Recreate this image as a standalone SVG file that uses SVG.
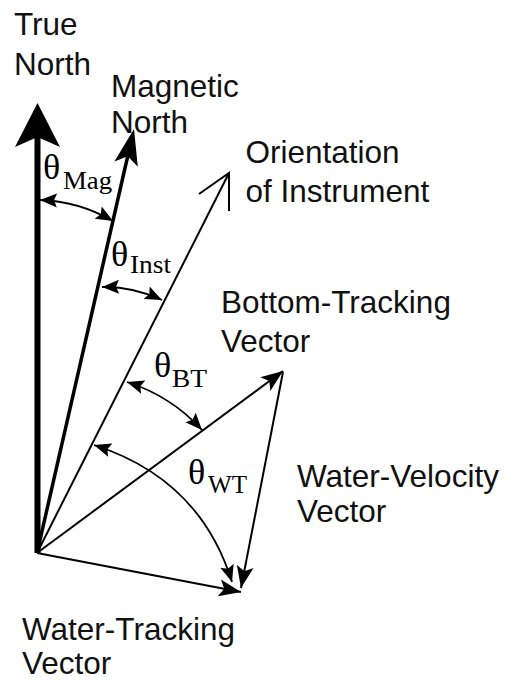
<svg xmlns="http://www.w3.org/2000/svg" width="507" height="681" viewBox="0 0 507 681">
  <style>
    .lbl { font-family: "Liberation Sans", Arial, sans-serif; font-size: 31.5px; fill: #111; }
    .th { font-family: "Liberation Serif", "Times New Roman", serif; font-size: 36px; fill: #000; }
    .sub { font-family: "Liberation Serif", "Times New Roman", serif; font-size: 25px; fill: #000; }
    .vec { stroke: #000; stroke-width: 2; fill: none; }
    .arc { stroke: #000; stroke-width: 1.8; fill: none; marker-start: url(#ah); marker-end: url(#ah); }
    .head { fill: #000; stroke: none; }
  </style>
  <defs>
    <marker id="vh" markerUnits="userSpaceOnUse" viewBox="0 -10 24 20" markerWidth="24" markerHeight="20" refX="22" refY="0" orient="auto">
      <path d="M22,0 L0,-8.5 L5,0 L0,8.5 Z" fill="#000"/>
    </marker>
    <marker id="ah" markerUnits="userSpaceOnUse" viewBox="0 -9 19 18" markerWidth="19" markerHeight="18" refX="17" refY="0" orient="auto-start-reverse">
      <path d="M17,0 L0,-7 L3,0 L0,7 Z" fill="#000"/>
    </marker>
  </defs>

  <rect width="507" height="681" fill="#fff"/>

  <g id="connectors">
    <g id="true-north-vector">
      <line x1="37.5" y1="553" x2="37.5" y2="136" stroke="#000" stroke-width="6"/>
      <path class="head" d="M37.5,103 L15,147 L37.5,137 L60,147 Z"/>
    </g>
    <g id="magnetic-north-vector">
      <line x1="37" y1="553" x2="128" y2="155" stroke="#000" stroke-width="3.5"/>
      <path class="head" d="M134,129 L114.4,161.5 L127.8,156.3 L137.8,166.7 Z"/>
    </g>
    <g id="orientation-vector">
      <line class="vec" x1="37" y1="553" x2="229" y2="173"/>
      <polyline class="vec" points="199,194 229,173 229,211"/>
    </g>
    <line id="bottom-tracking-vector" class="vec" x1="37" y1="553" x2="283" y2="371" marker-end="url(#vh)"/>
    <line id="water-velocity-vector" class="vec" x1="283" y1="372" x2="241" y2="588" marker-end="url(#vh)"/>
    <line id="water-tracking-vector" class="vec" x1="37" y1="553" x2="241" y2="592" marker-end="url(#vh)"/>

    <path id="arc-mag" class="arc" d="M40,200 Q78,201 113,221"/>
    <path id="arc-inst" class="arc" d="M102,287 Q133.5,286.5 162,300"/>
    <path id="arc-bt" class="arc" d="M127,382 Q171,396 202,430"/>
    <path id="arc-wt" class="arc" d="M94,445 Q200,479 232,582"/>
  </g>

  <g id="label-true-north">
    <text class="lbl" x="14" y="35">True</text>
    <text class="lbl" x="14" y="75">North</text>
  </g>
  <g id="label-magnetic-north">
    <text class="lbl" x="111" y="97">Magnetic</text>
    <text class="lbl" x="111" y="133">North</text>
  </g>
  <g id="label-orientation">
    <text class="lbl" x="245.5" y="163">Orientation</text>
    <text class="lbl" x="245.5" y="202">of Instrument</text>
  </g>
  <g id="label-bottom-tracking">
    <text class="lbl" x="221" y="313">Bottom-Tracking</text>
    <text class="lbl" x="221" y="352">Vector</text>
  </g>
  <g id="label-water-velocity">
    <text class="lbl" x="297" y="487">Water-Velocity</text>
    <text class="lbl" x="297" y="522">Vector</text>
  </g>
  <g id="label-water-tracking">
    <text class="lbl" x="22" y="640">Water-Tracking</text>
    <text class="lbl" x="22" y="674">Vector</text>
  </g>

  <g id="label-theta-mag">
    <text class="th" x="43" y="179">θ</text>
    <text class="sub" x="63" y="189" textLength="49" lengthAdjust="spacingAndGlyphs">Mag</text>
  </g>
  <g id="label-theta-inst">
    <text class="th" x="111" y="266">θ</text>
    <text class="sub" x="130" y="273" textLength="41" lengthAdjust="spacingAndGlyphs">Inst</text>
  </g>
  <g id="label-theta-bt">
    <text class="th" x="154" y="377">θ</text>
    <text class="sub" x="172" y="387" textLength="35" lengthAdjust="spacingAndGlyphs">BT</text>
  </g>
  <g id="label-theta-wt">
    <text class="th" x="188" y="484">θ</text>
    <text class="sub" x="208" y="493" textLength="39" lengthAdjust="spacingAndGlyphs">WT</text>
  </g>
</svg>
